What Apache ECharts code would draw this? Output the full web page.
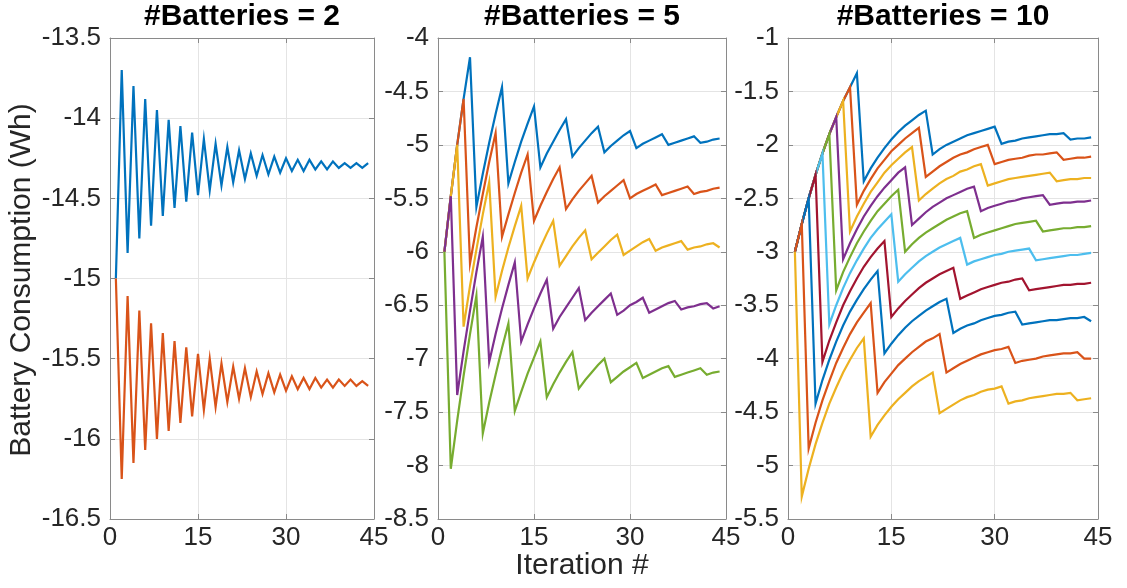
<!DOCTYPE html>
<html>
<head>
<meta charset="utf-8">
<script src="https://cdn.jsdelivr.net/npm/echarts@6/dist/echarts.min.js"></script>
<style>
  html, body { margin: 0; padding: 0; background: #fff; }
  #chart { width: 1127px; height: 588px; }
</style>
</head>
<body>
<div id="chart"></div>
<script>
// Iteration index shared by every series (1..44)
const iterations = Array.from({ length: 44 }, (_, i) => i + 1);
const xTicks = [0, 15, 30, 45];

// #Batteries = 2
const b2Blue = [
  -15, -13.70, -14.84, -13.80, -14.75, -13.88, -14.67, -13.95, -14.61, -14.01,
  -14.56, -14.05, -14.52, -14.09, -14.48, -14.13, -14.45, -14.16, -14.42, -14.18,
  -14.40, -14.20, -14.38, -14.22, -14.36, -14.23, -14.35, -14.24, -14.34, -14.25,
  -14.33, -14.26, -14.33, -14.26, -14.32, -14.27, -14.32, -14.27, -14.31, -14.28,
  -14.31, -14.28, -14.31, -14.28
];
const b2Orange = [
  -15, -16.25, -15.11, -16.15, -15.20, -16.07, -15.28, -16.00, -15.34, -15.95,
  -15.39, -15.90, -15.43, -15.86, -15.47, -15.82, -15.50, -15.80, -15.53, -15.77,
  -15.55, -15.75, -15.56, -15.74, -15.58, -15.72, -15.59, -15.71, -15.60, -15.70,
  -15.61, -15.69, -15.62, -15.69, -15.62, -15.68, -15.63, -15.68, -15.63, -15.67,
  -15.63, -15.67, -15.64, -15.67
];

// #Batteries = 5
const b5Blue = [
  -6, -5.48, -5.00, -4.57, -4.18, -5.58, -5.27, -4.98, -4.71, -4.46,
  -5.36, -5.16, -4.97, -4.80, -4.64, -5.21, -5.08, -4.97, -4.86, -4.76,
  -5.11, -5.03, -4.96, -4.89, -4.83, -5.07, -5.01, -4.96, -4.91, -4.87,
  -5.03, -4.99, -4.96, -4.93, -4.90, -5.00, -4.98, -4.96, -4.94, -4.92,
  -4.98, -4.97, -4.95, -4.94
];
const b5Orange = [
  -6, -5.48, -5.00, -4.57, -6.11, -5.77, -5.46, -5.16, -4.89, -5.86,
  -5.65, -5.45, -5.26, -5.09, -5.71, -5.57, -5.44, -5.32, -5.21, -5.60,
  -5.51, -5.43, -5.36, -5.29, -5.54, -5.48, -5.43, -5.38, -5.33, -5.50,
  -5.46, -5.43, -5.40, -5.37, -5.47, -5.45, -5.43, -5.41, -5.39, -5.46,
  -5.44, -5.43, -5.41, -5.40
];
const b5Yellow = [
  -6, -5.48, -5.00, -6.70, -6.32, -5.98, -5.65, -5.35, -6.42, -6.18,
  -5.96, -5.76, -5.57, -6.25, -6.10, -5.96, -5.83, -5.71, -6.13, -6.04,
  -5.95, -5.87, -5.80, -6.07, -6.01, -5.95, -5.89, -5.84, -6.03, -5.99,
  -5.95, -5.91, -5.88, -5.99, -5.96, -5.94, -5.92, -5.90, -5.98, -5.96,
  -5.95, -5.93, -5.92, -5.96
];
const b5Purple = [
  -6, -5.48, -7.34, -6.93, -6.55, -6.19, -5.86, -7.03, -6.77, -6.53,
  -6.31, -6.10, -6.84, -6.68, -6.53, -6.39, -6.26, -6.72, -6.61, -6.52,
  -6.43, -6.34, -6.64, -6.57, -6.51, -6.45, -6.39, -6.59, -6.55, -6.50,
  -6.47, -6.43, -6.57, -6.54, -6.51, -6.48, -6.46, -6.54, -6.52, -6.51,
  -6.49, -6.48, -6.53, -6.51
];
const b5Green = [
  -6, -8.03, -7.58, -7.16, -6.77, -6.41, -7.70, -7.41, -7.15, -6.90,
  -6.67, -7.49, -7.31, -7.14, -6.99, -6.84, -7.36, -7.24, -7.13, -7.03,
  -6.94, -7.28, -7.20, -7.13, -7.06, -7.00, -7.22, -7.17, -7.12, -7.08,
  -7.04, -7.18, -7.15, -7.12, -7.09, -7.07, -7.17, -7.15, -7.13, -7.11,
  -7.09, -7.15, -7.13, -7.12
];

// #Batteries = 10
const b10Bat1 = [
  -3.00, -2.74, -2.50, -2.28, -2.08, -1.90, -1.74, -1.59, -1.46, -1.33,
  -2.34, -2.22, -2.12, -2.03, -1.95, -1.88, -1.82, -1.77, -1.72, -1.68,
  -2.09, -2.04, -2.00, -1.97, -1.94, -1.91, -1.89, -1.87, -1.85, -1.83,
  -1.99, -1.97, -1.96, -1.94, -1.93, -1.92, -1.91, -1.90, -1.90, -1.89,
  -1.95, -1.94, -1.94, -1.93
];
const b10Bat2 = [
  -3.00, -2.74, -2.50, -2.28, -2.08, -1.90, -1.74, -1.59, -1.46, -2.56,
  -2.43, -2.32, -2.22, -2.14, -2.06, -2.00, -1.94, -1.89, -1.84, -2.30,
  -2.25, -2.20, -2.16, -2.12, -2.09, -2.07, -2.04, -2.02, -2.00, -2.18,
  -2.16, -2.14, -2.13, -2.12, -2.10, -2.09, -2.09, -2.08, -2.07, -2.14,
  -2.13, -2.12, -2.12, -2.11
];
const b10Bat3 = [
  -3.00, -2.74, -2.50, -2.28, -2.08, -1.90, -1.74, -1.59, -2.81, -2.67,
  -2.55, -2.44, -2.35, -2.26, -2.19, -2.13, -2.07, -2.02, -2.52, -2.46,
  -2.41, -2.36, -2.32, -2.29, -2.25, -2.23, -2.20, -2.18, -2.38, -2.36,
  -2.34, -2.32, -2.31, -2.30, -2.29, -2.28, -2.27, -2.26, -2.34, -2.33,
  -2.32, -2.32, -2.31, -2.31
];
const b10Bat4 = [
  -3.00, -2.74, -2.50, -2.28, -2.08, -1.90, -1.74, -3.07, -2.92, -2.79,
  -2.67, -2.57, -2.48, -2.40, -2.33, -2.26, -2.21, -2.75, -2.69, -2.63,
  -2.58, -2.54, -2.50, -2.47, -2.44, -2.41, -2.39, -2.62, -2.59, -2.57,
  -2.55, -2.53, -2.52, -2.50, -2.49, -2.48, -2.47, -2.56, -2.55, -2.54,
  -2.54, -2.53, -2.53, -2.52
];
const b10Bat5 = [
  -3.00, -2.74, -2.50, -2.28, -2.08, -1.90, -3.36, -3.19, -3.05, -2.92,
  -2.81, -2.71, -2.62, -2.55, -2.48, -2.42, -3.00, -2.93, -2.87, -2.82,
  -2.78, -2.74, -2.70, -2.67, -2.64, -2.62, -2.87, -2.84, -2.82, -2.80,
  -2.78, -2.76, -2.74, -2.73, -2.72, -2.71, -2.81, -2.80, -2.79, -2.78,
  -2.78, -2.77, -2.77, -2.76
];
const b10Bat6 = [
  -3.00, -2.74, -2.50, -2.28, -2.08, -3.68, -3.50, -3.34, -3.20, -3.08,
  -2.97, -2.87, -2.79, -2.72, -2.65, -3.28, -3.21, -3.15, -3.09, -3.04,
  -3.00, -2.96, -2.93, -2.90, -2.87, -3.12, -3.09, -3.07, -3.05, -3.03,
  -3.02, -3.00, -2.99, -2.98, -2.97, -3.08, -3.07, -3.06, -3.05, -3.04,
  -3.03, -3.03, -3.02, -3.01
];
const b10Bat7 = [
  -3.00, -2.74, -2.50, -2.28, -4.03, -3.83, -3.66, -3.50, -3.37, -3.25,
  -3.14, -3.05, -2.97, -2.90, -3.61, -3.53, -3.46, -3.40, -3.34, -3.29,
  -3.25, -3.21, -3.18, -3.15, -3.44, -3.41, -3.38, -3.35, -3.33, -3.31,
  -3.29, -3.28, -3.26, -3.25, -3.36, -3.35, -3.34, -3.33, -3.32, -3.31,
  -3.31, -3.30, -3.30, -3.29
];
const b10Bat8 = [
  -3.00, -2.74, -2.50, -4.42, -4.20, -4.01, -3.84, -3.69, -3.56, -3.45,
  -3.35, -3.26, -3.18, -3.95, -3.86, -3.78, -3.71, -3.65, -3.60, -3.55,
  -3.51, -3.47, -3.44, -3.76, -3.72, -3.69, -3.67, -3.64, -3.62, -3.60,
  -3.59, -3.57, -3.56, -3.68, -3.67, -3.66, -3.65, -3.64, -3.64, -3.63,
  -3.62, -3.62, -3.61, -3.65
];
const b10Bat9 = [
  -3.00, -2.74, -4.84, -4.60, -4.39, -4.21, -4.04, -3.90, -3.77, -3.66,
  -3.57, -3.48, -4.32, -4.22, -4.14, -4.06, -4.00, -3.94, -3.89, -3.84,
  -3.81, -3.77, -4.13, -4.09, -4.05, -4.02, -3.99, -3.96, -3.94, -3.92,
  -3.91, -3.89, -4.04, -4.02, -4.01, -4.00, -3.98, -3.97, -3.96, -3.95,
  -3.95, -3.94, -4.00, -4.00
];
const b10Bat10 = [
  -3.00, -5.29, -5.03, -4.80, -4.60, -4.42, -4.27, -4.13, -4.01, -3.90,
  -3.81, -4.73, -4.62, -4.53, -4.45, -4.38, -4.32, -4.26, -4.21, -4.17,
  -4.13, -4.51, -4.47, -4.43, -4.39, -4.36, -4.34, -4.31, -4.29, -4.28,
  -4.26, -4.42, -4.40, -4.39, -4.37, -4.36, -4.35, -4.34, -4.33, -4.33,
  -4.32, -4.39, -4.38, -4.37
];

// Default line colour order
const palette = ['#0072BD', '#D95319', '#EDB120', '#7E2F8E', '#77AC30', '#4DBEEE', '#A2142F'];

const panels = [
  { title: '#Batteries = 2', left: 110, width: 264, yMin: -16.5, yMax: -13.5,
    lines: [b2Blue, b2Orange] },
  { title: '#Batteries = 5', left: 438, width: 288, yMin: -8.5, yMax: -4,
    lines: [b5Blue, b5Orange, b5Yellow, b5Purple, b5Green] },
  { title: '#Batteries = 10', left: 788, width: 310, yMin: -5.5, yMax: -1,
    lines: [b10Bat1, b10Bat2, b10Bat3, b10Bat4, b10Bat5, b10Bat6, b10Bat7, b10Bat8, b10Bat9, b10Bat10] }
];

const FONT = '"Liberation Sans", Arial, Helvetica, sans-serif';
const BOX = '#8a8a8a';
const GRIDLINE = '#e4e4e4';
const TEXT = '#262626';
const TOP = 38, HEIGHT = 481;

const grid = [], xAxis = [], yAxis = [], series = [], graphic = [];

panels.forEach((p, i) => {
  grid.push({ left: p.left, top: TOP, width: p.width, height: HEIGHT, show: false });

  const tick = { show: true, inside: true, length: 5, lineStyle: { color: BOX, width: 1 } };
  const line = { show: true, onZero: false, lineStyle: { color: BOX, width: 1 } };

  // bottom axis with labels + mirrored top axis
  xAxis.push({
    gridIndex: i, type: 'value', min: xTicks[0], max: xTicks[xTicks.length - 1], interval: 15,
    position: 'bottom', axisLine: line, axisTick: tick,
    axisLabel: { color: TEXT, fontSize: 26, fontFamily: FONT, margin: 6 },
    splitLine: { show: true, showMinLine: false, showMaxLine: false, lineStyle: { color: GRIDLINE, width: 1 } }
  });
  xAxis.push({
    gridIndex: i, type: 'value', min: xTicks[0], max: xTicks[xTicks.length - 1], interval: 15,
    position: 'top', axisLine: line, axisTick: tick,
    axisLabel: { show: false }, splitLine: { show: false }
  });
  // left axis with labels + mirrored right axis
  yAxis.push({
    gridIndex: i, type: 'value', min: p.yMin, max: p.yMax, interval: 0.5,
    position: 'left', axisLine: line, axisTick: tick,
    axisLabel: { color: TEXT, fontSize: 26, fontFamily: FONT, margin: 9 },
    splitLine: { show: true, showMinLine: false, showMaxLine: false, lineStyle: { color: GRIDLINE, width: 1 } }
  });
  yAxis.push({
    gridIndex: i, type: 'value', min: p.yMin, max: p.yMax, interval: 0.5,
    position: 'right', axisLine: line, axisTick: tick,
    axisLabel: { show: false }, splitLine: { show: false }
  });

  p.lines.forEach((vals, k) => {
    series.push({
      type: 'line',
      xAxisIndex: 2 * i, yAxisIndex: 2 * i,
      data: vals.map((v, j) => [iterations[j], v]),
      showSymbol: false, symbol: 'none',
      lineStyle: { color: palette[k % palette.length], width: 2.2, join: 'miter' },
      itemStyle: { color: palette[k % palette.length] },
      silent: true, animation: false, clip: true
    });
  });

  graphic.push({
    type: 'text', x: p.left + p.width / 2, y: 17,
    style: { text: p.title, fill: '#000', font: 'bold 30px ' + FONT, align: 'center', verticalAlign: 'middle' }
  });
});

graphic.push({
  type: 'text', x: 582, y: 566,
  style: { text: 'Iteration #', fill: TEXT, font: '30px ' + FONT, align: 'center', verticalAlign: 'middle' }
});
graphic.push({
  type: 'text', x: 22, y: 280, rotation: Math.PI / 2,
  style: { text: 'Battery Consumption (Wh)', fill: TEXT, font: '30px ' + FONT, align: 'center', verticalAlign: 'middle' }
});

const chart = echarts.init(document.getElementById('chart'), null, { renderer: 'canvas' });
chart.setOption({
  animation: false,
  backgroundColor: '#fff',
  grid, xAxis, yAxis, series, graphic
});
</script>
</body>
</html>
